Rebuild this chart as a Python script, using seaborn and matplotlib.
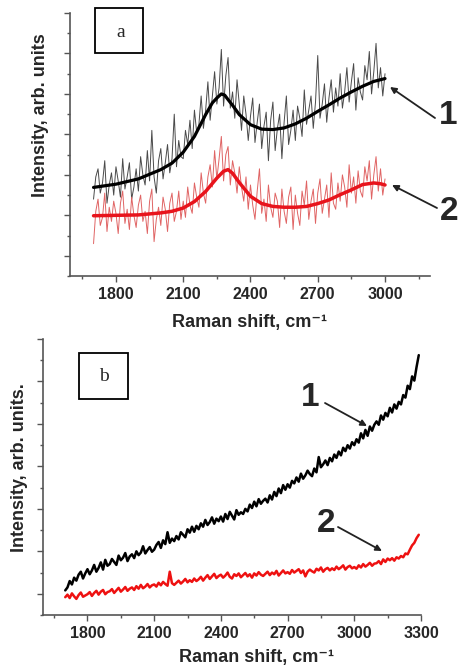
import numpy as np
import pandas as pd
import matplotlib
matplotlib.use("Agg")
import matplotlib.pyplot as plt
from matplotlib.ticker import MultipleLocator, NullFormatter
from matplotlib.patches import Rectangle
import seaborn as sns

# panel a: raw spectra (step 10 cm-1) and fitted curves
shift_a = list(range(1700, 3001, 10))
raw1_a = [1.40, 1.95, 2.15, 1.55, 1.80, 2.35, 1.30, 1.75, 2.05, 1.50,
          2.20, 1.85, 1.45, 2.40, 1.65, 1.95, 2.30, 1.40, 1.70, 2.15,
          1.60, 2.45, 2.00, 1.75, 2.60, 1.85, 3.10, 1.95, 1.55, 2.35,
          2.65, 1.90, 2.30, 2.75, 2.05, 2.40, 3.50, 2.20, 2.85, 2.45,
          2.40, 3.10, 2.75, 3.35, 2.65, 3.60, 3.05, 3.25, 3.95, 3.15,
          3.60, 4.30, 3.35, 3.95, 4.55, 3.75, 4.15, 5.10, 3.70, 4.45,
          4.90, 3.65, 4.05, 3.40, 4.35, 3.75, 3.10, 3.95, 3.50, 2.85,
          3.45, 3.90, 2.80, 3.30, 3.75, 2.65, 3.20, 3.55, 2.35, 3.35,
          3.80, 2.60, 3.15, 3.50, 2.40, 3.30, 3.95, 2.75, 3.10, 3.60,
          2.85, 3.70, 3.40, 2.95, 4.10, 3.25, 3.60, 3.95, 3.15, 3.80,
          4.95, 3.40, 3.75, 4.25, 3.30, 3.90, 4.35, 3.55, 4.15, 3.70,
          4.50, 3.65, 4.05, 4.65, 3.80, 4.30, 4.75, 3.60, 4.40, 4.05,
          3.85, 4.70, 4.35, 5.05, 4.00, 4.55, 5.25, 4.15, 4.65, 3.95,
          4.50]
raw2_a = [0.30, 1.10, 1.40, 0.75, 0.95, 1.55, 0.60, 1.20, 0.85, 1.35,
          1.05, 0.55, 1.30, 1.60, 0.80, 1.15, 0.65, 1.45, 1.00, 0.70,
          1.25, 1.50, 0.85, 1.10, 0.55, 1.35, 1.65, 0.35, 0.90, 1.20,
          0.75, 1.45, 1.15, 0.60, 1.30, 1.55, 0.85, 1.10, 1.60, 0.90,
          1.35, 0.95, 1.70, 1.25, 1.05, 1.80, 1.45, 1.20, 2.05, 1.55,
          1.30, 1.95, 2.25, 1.70, 2.60, 1.90, 2.40, 2.95, 1.85, 2.50,
          2.70, 1.75, 2.35, 2.05, 1.55, 2.20, 1.70, 1.35, 1.95, 1.15,
          1.75, 1.25, 0.90, 1.60, 2.15, 1.05, 1.40, 0.85, 1.75, 1.20,
          0.95, 1.55, 1.35, 0.70, 1.65, 1.10, 0.80, 1.45, 1.70, 0.65,
          1.50, 1.05, 0.75, 1.60, 1.25, 1.85, 0.90, 1.35, 1.65, 0.80,
          1.55, 1.90, 1.05, 1.40, 1.75, 0.95, 2.05, 1.30, 1.15, 1.80,
          1.35, 2.00, 1.70, 1.20, 2.25, 1.55, 1.95, 1.30, 2.10, 1.60,
          1.45, 2.20, 1.85, 2.35, 1.40, 2.00, 2.45, 1.60, 2.15, 1.50,
          1.90]

fit1_x = [1700, 1800, 1900, 2000, 2050, 2100, 2150, 2200, 2230, 2250, 2270, 2285,
          2300, 2320, 2350, 2400, 2450, 2500, 2550, 2600, 2650, 2700, 2750, 2800,
          2850, 2900, 2950, 3000]
fit1_y = [1.69, 1.77, 1.90, 2.13, 2.29, 2.56, 2.95, 3.49, 3.78, 3.90, 4.00, 3.97,
          3.86, 3.72, 3.49, 3.24, 3.13, 3.12, 3.16, 3.26, 3.40, 3.57, 3.73, 3.90,
          4.05, 4.19, 4.31, 4.38]
fit2_x = [1700, 1800, 1900, 2000, 2050, 2100, 2150, 2200, 2250, 2280, 2300, 2320,
          2350, 2400, 2450, 2500, 2550, 2600, 2650, 2700, 2750, 2800, 2850, 2900,
          2950, 2980, 3000]
fit2_y = [0.99, 1.00, 1.01, 1.06, 1.10, 1.18, 1.34, 1.59, 1.92, 2.09, 2.13, 2.04,
          1.81, 1.47, 1.29, 1.22, 1.20, 1.20, 1.22, 1.29, 1.38, 1.51, 1.63, 1.76,
          1.80, 1.78, 1.75]

# panel b
shift_b = list(range(1700, 3291, 10))
spec1_b = [0.08, 0.15, 0.30, 0.22, 0.38, 0.31, 0.45, 0.52, 0.36, 0.48,
           0.58, 0.46, 0.55, 0.68, 0.52, 0.61, 0.74, 0.57, 0.80, 0.66,
           0.70, 0.82, 0.75, 0.68, 0.90, 0.79, 0.85, 0.96, 0.77, 0.88,
           0.93, 0.84, 1.00, 0.91, 0.97, 1.12, 0.95, 1.03, 1.10, 0.99,
           1.04, 1.15, 1.22, 1.08, 1.26, 1.17, 1.45, 1.20, 1.30, 1.24,
           1.36, 1.28, 1.45, 1.39, 1.33, 1.52, 1.44, 1.58, 1.46, 1.60,
           1.52, 1.66, 1.58, 1.74, 1.62, 1.69, 1.80, 1.65, 1.77, 1.71,
           1.82, 1.70, 1.88, 1.76, 1.93, 1.84, 1.75, 1.97, 1.86, 1.92,
           1.88, 2.00, 1.94, 2.10, 2.02, 2.17, 2.06, 2.23, 2.12, 2.19,
           2.24, 2.15, 2.32, 2.22, 2.40, 2.30, 2.48, 2.37, 2.56, 2.45,
           2.58, 2.50, 2.66, 2.60, 2.74, 2.64, 2.83, 2.71, 2.79, 2.90,
           2.82, 2.77, 2.95, 2.86, 3.22, 2.98, 3.05, 3.14, 3.03, 3.20,
           3.12, 3.28, 3.20, 3.35, 3.26, 3.44, 3.36, 3.50, 3.42, 3.57,
           3.50, 3.64, 3.56, 3.78, 3.66, 3.86, 3.72, 3.94, 3.84, 3.98,
           4.06, 3.98, 4.20, 4.10, 4.26, 4.18, 4.38, 4.27, 4.46, 4.36,
           4.52, 4.46, 4.68, 4.62, 4.90, 4.82, 5.12, 5.02, 5.34, 5.62]
spec2_b = [-0.08, -0.02, -0.10, 0.01, -0.06, -0.12, -0.03, 0.03, -0.07, -0.04,
           -0.01, 0.04, -0.05, 0.02, 0.07, -0.02, 0.05, 0.09, -0.01, 0.04,
           0.06, 0.11, 0.02, 0.08, 0.14, 0.05, 0.10, 0.16, 0.07, 0.12,
           0.15, 0.09, 0.18, 0.12, 0.21, 0.13, 0.17, 0.23, 0.15, 0.20,
           0.22, 0.17, 0.26, 0.20, 0.28, 0.23, 0.19, 0.52, 0.25, 0.21,
           0.26, 0.31, 0.24, 0.29, 0.35, 0.27, 0.32, 0.28, 0.36, 0.30,
           0.34, 0.40, 0.31, 0.38, 0.44, 0.35, 0.41, 0.47, 0.37, 0.42,
           0.45, 0.38, 0.43, 0.50, 0.40, 0.36, 0.46, 0.42, 0.48, 0.39,
           0.44, 0.49, 0.41, 0.46, 0.38, 0.48, 0.43, 0.51, 0.45, 0.42,
           0.47, 0.52, 0.44, 0.50, 0.46, 0.54, 0.43, 0.49, 0.55, 0.48,
           0.51, 0.47, 0.56, 0.50, 0.54, 0.58, 0.49, 0.55, 0.41, 0.52,
           0.57, 0.53, 0.50, 0.59, 0.55, 0.62, 0.52, 0.58, 0.61, 0.55,
           0.60, 0.56, 0.64, 0.58, 0.62, 0.67, 0.57, 0.63, 0.66, 0.60,
           0.63, 0.59, 0.67, 0.62, 0.70, 0.64, 0.68, 0.73, 0.66, 0.71,
           0.72, 0.77, 0.70, 0.81, 0.75, 0.83, 0.79, 0.84, 0.78, 0.86,
           0.83, 0.89, 0.86, 0.95, 0.93, 1.04, 1.14, 1.20, 1.31, 1.39]

sns.set_style("ticks")
plt.rcParams['font.family'] = ['Liberation Sans', 'DejaVu Sans']

fig = plt.figure(figsize=(4.59, 6.68), dpi=100)
ax1 = fig.add_axes([0.1525, 0.5868, 0.784, 0.3937])
ax2 = fig.add_axes([0.0937, 0.0793, 0.8235, 0.4132])

da = pd.DataFrame({'x': shift_a, 'r1': raw1_a, 'r2': raw2_a})
sns.lineplot(data=da, x='x', y='r1', ax=ax1, color='#4a4a4a', lw=0.7, estimator=None)
sns.lineplot(data=da, x='x', y='r2', ax=ax1, color='#e06464', lw=0.7, estimator=None)
sns.lineplot(x=fit1_x, y=fit1_y, ax=ax1, color='black', lw=2.3, estimator=None)
sns.lineplot(x=fit2_x, y=fit2_y, ax=ax1, color='#e8141c', lw=2.5, estimator=None)

db = pd.DataFrame({'x': shift_b, 's1': spec1_b, 's2': spec2_b})
sns.lineplot(data=db, x='x', y='s1', ax=ax2, color='black', lw=1.8, estimator=None)
sns.lineplot(data=db, x='x', y='s2', ax=ax2, color='#ee1111', lw=1.8, estimator=None)

ax1.set_xlim(1595, 3200)
ax2.set_xlim(1600, 3300)
for ax in (ax1, ax2):
    ax.set_ylim(-0.5, 6)
    ax.xaxis.set_major_locator(MultipleLocator(300))
    ax.xaxis.set_minor_locator(MultipleLocator(150))
    ax.yaxis.set_major_locator(MultipleLocator(1))
    ax.yaxis.set_minor_locator(MultipleLocator(0.5))
    ax.yaxis.set_major_formatter(NullFormatter())
    sns.despine(ax=ax)
    for s in ('left', 'bottom'):
        ax.spines[s].set_color('#555555')
        ax.spines[s].set_linewidth(1.2)
    ax.tick_params(which='major', length=4, width=1, color='#555555')
    ax.tick_params(which='minor', length=2.5, width=1, color='#555555')
    ax.tick_params(axis='x', labelsize=11.5, pad=4)
    for lab in ax.get_xticklabels():
        lab.set_fontweight('bold')
    ax.set_xlabel('Raman shift, cm\u207b\u00b9', fontsize=13, fontweight='bold')

ax1.set_ylabel('Intensity, arb. units', fontsize=13, fontweight='bold')
ax2.set_ylabel('Intensity, arb. units.', fontsize=13, fontweight='bold')
ax1.yaxis.set_label_coords(-0.058, 0.612)
ax2.yaxis.set_label_coords(-0.040, 0.536)
ax1.xaxis.set_label_coords(0.5, -0.144)
ax2.xaxis.set_label_coords(0.566, -0.123)

# panel letters in boxes
fig.add_artist(Rectangle((0.207, 0.9207), 0.1046, 0.0674, transform=fig.transFigure,
                         fill=False, ec='black', lw=1.3))
fig.text(0.2636, 0.952, 'a', ha='center', va='center', fontsize=14, family='Liberation Serif')
fig.add_artist(Rectangle((0.172, 0.4027), 0.1068, 0.0689, transform=fig.transFigure,
                         fill=False, ec='black', lw=1.3))
fig.text(0.2266, 0.436, 'b', ha='center', va='center', fontsize=14, family='Liberation Serif')

# curve numbers with arrows
arrow = dict(arrowstyle='-|>', color='#222222', lw=1.3, mutation_scale=9, shrinkA=0, shrinkB=0)
for ax, num, txt, tail, head in [(ax1, '1', (448, 553), (435, 550), (390, 581)),
                                 (ax1, '2', (449, 457), (437, 460), (392, 483)),
                                 (ax2, '1', (310, 271), (325, 265), (367, 242)),
                                 (ax2, '2', (326, 145), (338, 141), (382, 117))]:
    ax.annotate('', xy=head, xytext=tail, xycoords='figure pixels',
                textcoords='figure pixels', arrowprops=arrow, annotation_clip=False)
    ax.annotate(num, xy=txt, xycoords='figure pixels', ha='center', va='center',
                fontsize=24, fontweight='bold', annotation_clip=False)

fig.savefig('out.png', dpi=100)
